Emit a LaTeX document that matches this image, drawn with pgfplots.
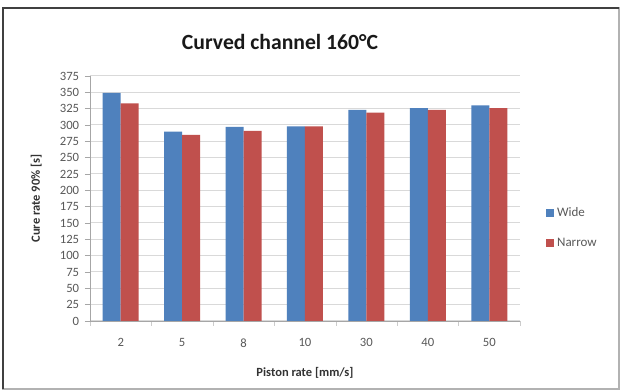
\documentclass[border=0pt]{standalone}
\usepackage{pgfplots}
\pgfplotsset{compat=1.18}
\usepackage{fontspec}
\setmainfont{Carlito}
\definecolor{wideblue}{HTML}{4F81BD}
\definecolor{narrowred}{HTML}{C0504D}
\definecolor{ticktext}{HTML}{595959}
\definecolor{gridgray}{HTML}{D9D9D9}
\begin{document}
\begin{tikzpicture}[x=0.6pt,y=0.6pt]
% canvas and chart frame (units of the canvas grid, origin bottom left)
\fill[white] (0,0) rectangle (622,392);
\draw[gray!60, line width=0.8pt] (3,3) rectangle (619,384);
\draw[black!75, line width=1.2pt] (3,3) -- (3,384) -- (619,384);
\node[font=\bfseries\fontsize{13}{16}\selectfont, text=black!90] at (280,350) {Curved channel 160°C};
\begin{axis}[
  at={(54pt,42.6pt)}, anchor=south west,
  scale only axis,
  width=258pt, height=147pt,
  ybar=0pt, bar width=10.8pt,
  xmin=-0.5, xmax=6.5,
  ymin=0, ymax=375,
  ytick={0,25,...,375},
  xtick=data,
  xticklabels={2,5,8,10,30,40,50},
  minor xtick={-0.5,0.5,...,6.5},
  ymajorgrids, grid style={gridgray, line width=0.6pt},
  axis x line*=bottom, axis y line*=left,
  axis line style={gray!70},
  x axis line style={-}, y axis line style={-},
  tick style={gray!70},
  xtick style={draw=none},
  minor x tick style={draw=gray!40},
  tick align=outside, major tick length=3pt, minor tick length=3pt,
  tick label style={font=\fontsize{7.6}{8}\selectfont, text=ticktext},
  /pgf/number format/assume math mode=true,
  xticklabel style={yshift=-4pt},
  ylabel={\bfseries Cure rate 90\% [s]},
  xlabel={\bfseries Piston rate [mm/s]},
  label style={font=\fontsize{7.5}{9}\selectfont, text=black!80},
  ylabel style={yshift=4pt},
  xlabel style={yshift=-5pt},
  legend style={at={(1.06,0.38)}, anchor=west, draw=none, fill=none,
    font=\fontsize{7.8}{9}\selectfont, text=ticktext,
    row sep=7.5pt, inner sep=0pt},
  legend image code/.code={\fill[#1] (0pt,-2.3pt) rectangle (4.6pt,2.3pt);},
  legend cell align=left,
]
\addplot[fill=wideblue, draw=none] coordinates {(0,349) (1,290) (2,297) (3,298) (4,323) (5,326) (6,330)};
\addplot[fill=narrowred, draw=none] coordinates {(0,333) (1,285) (2,291) (3,298) (4,319) (5,323) (6,326)};
\legend{Wide,Narrow}
\end{axis}
\end{tikzpicture}
\end{document}
